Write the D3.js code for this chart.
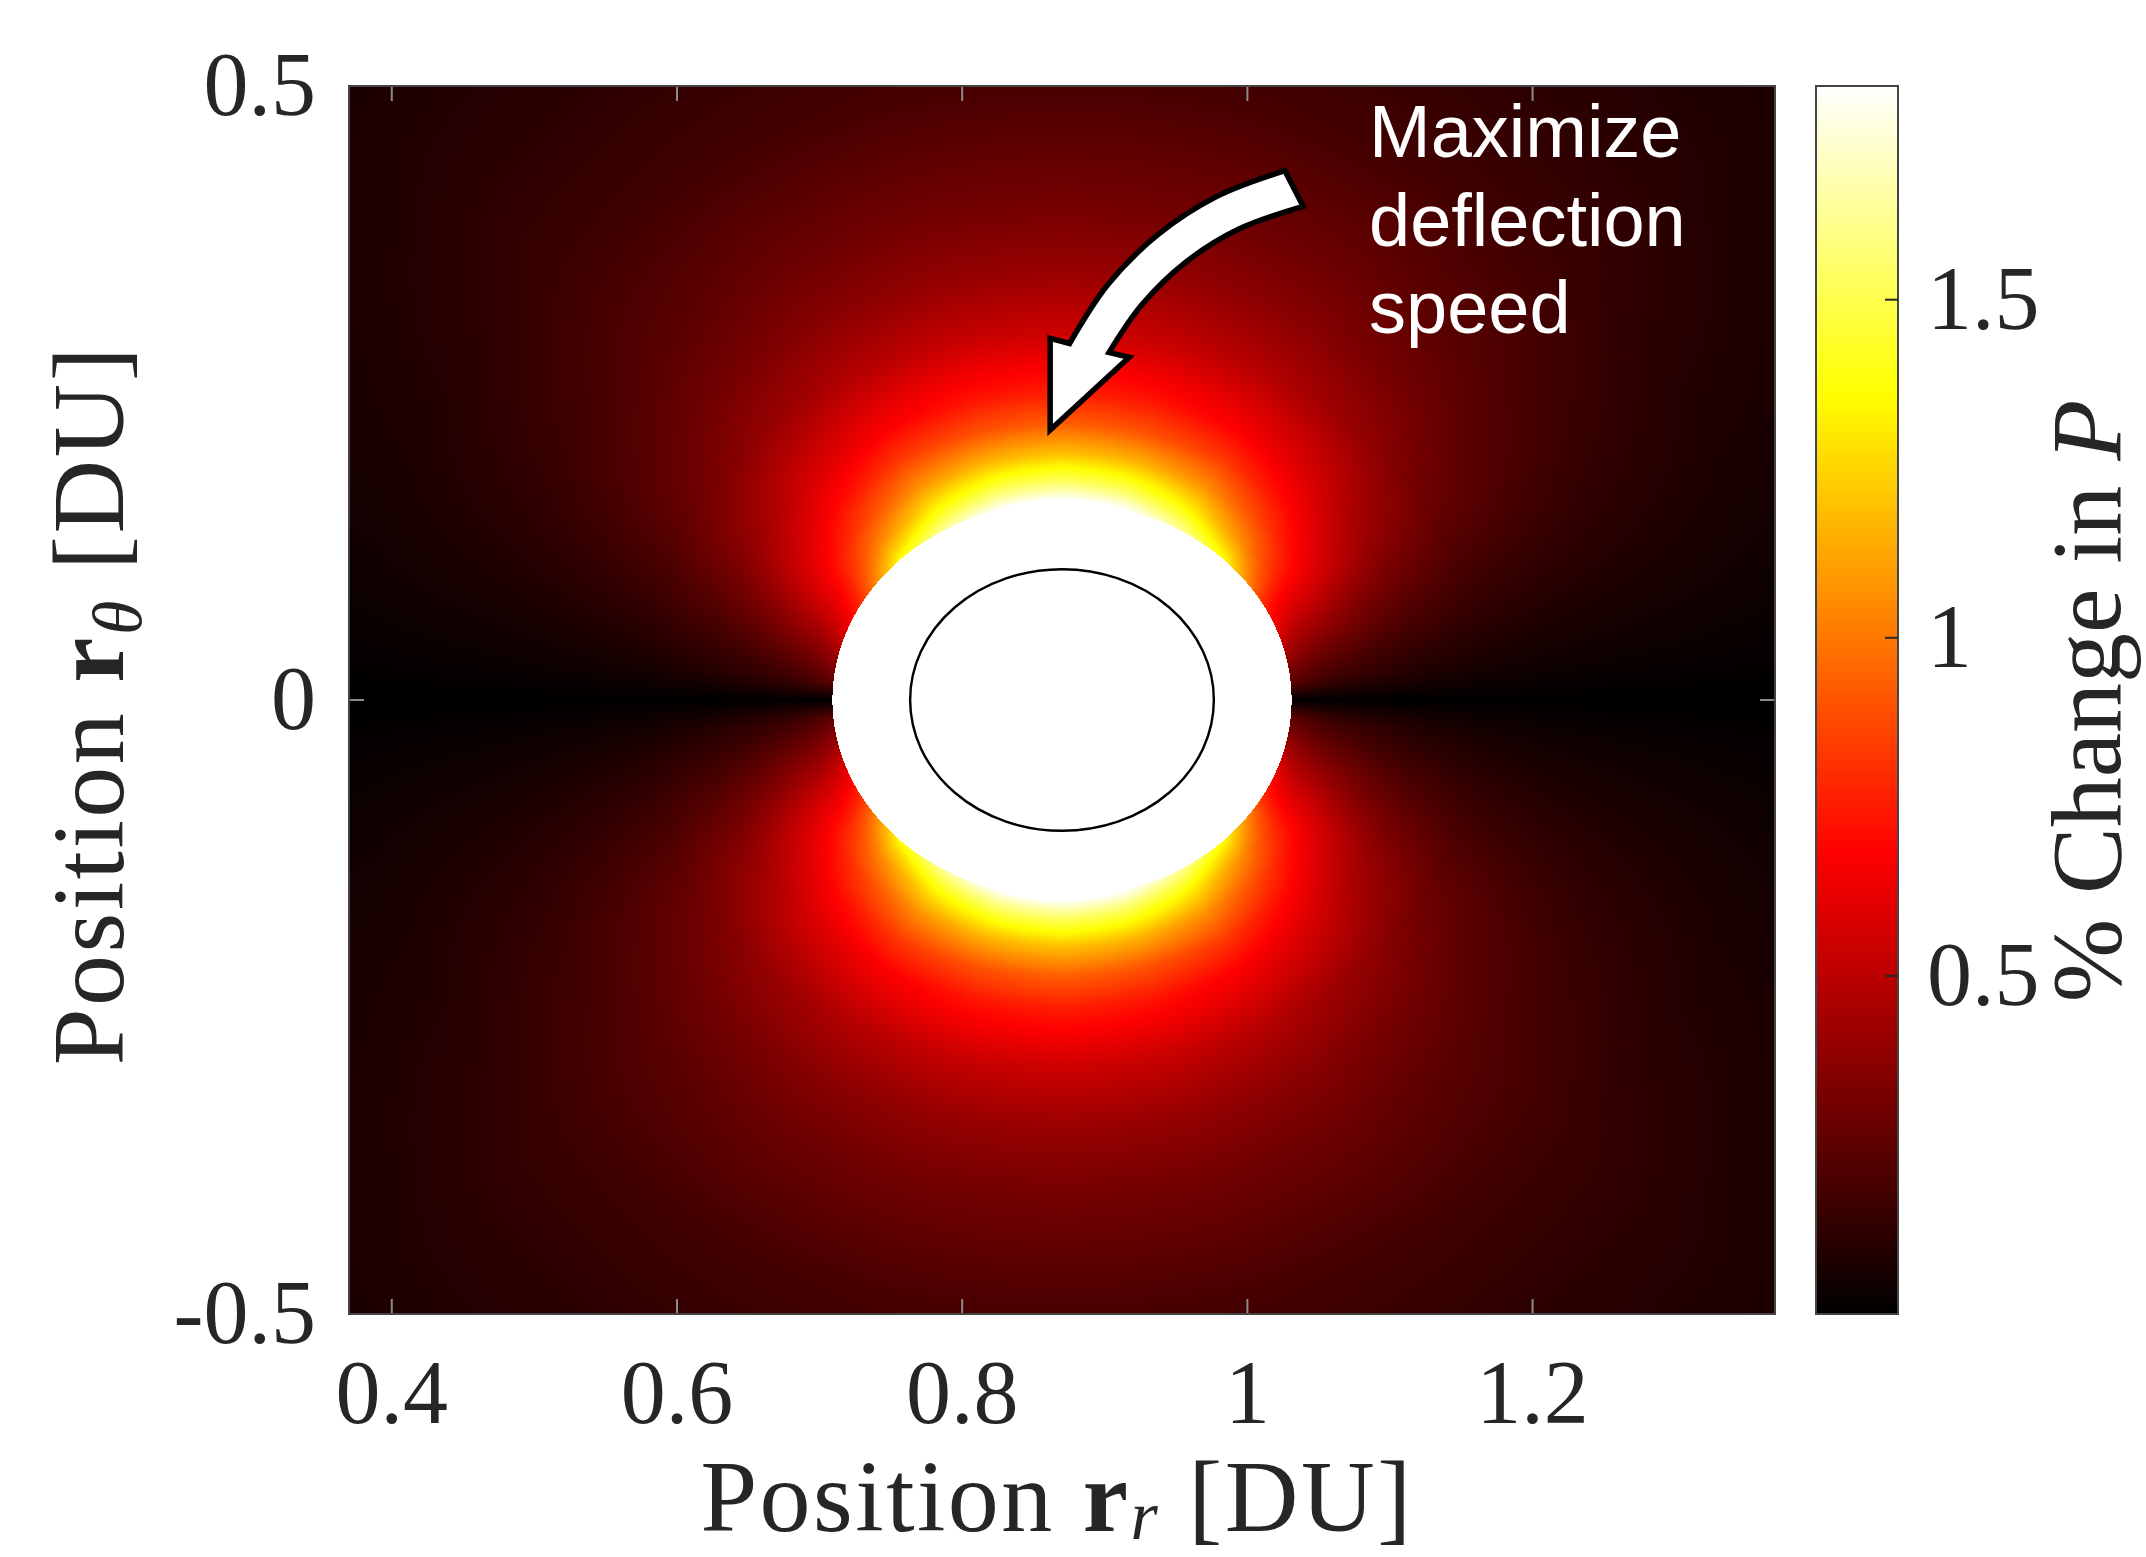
<!DOCTYPE html>
<html><head><meta charset="utf-8">
<script src="https://cdn.jsdelivr.net/npm/d3@7"></script>
<style>html,body{margin:0;padding:0;background:#fff;}svg{display:block;}</style>
</head><body>
<script>
// ---------- data ----------
const xTicks = [0.4, 0.6, 0.8, 1, 1.2];
const yTicks = [-0.5, 0, 0.5];
const cTicks = [0.5, 1, 1.5];
const xDomain = [0.37, 1.37];
const yDomain = [-0.5, 0.5];
const cDomain = [0, 1.816];
const bodyCenter = [0.87, 0];
const bodyRadius = 0.1065;
const maskRadius = 0.161;

// field sampled (read off the picture) on a polar grid around bodyCenter,
// radius in DU, angle from the r_r axis in degrees (symmetric about both axes)
const fieldRadii = [0.161, 0.17, 0.18, 0.2, 0.225, 0.25, 0.3, 0.35, 0.4, 0.5, 0.6, 0.72];
const fieldAngles = [0, 5, 10, 20, 30, 45, 60, 75, 90];
const fieldAt0  = [0, 0, 0, 0, 0, 0, 0, 0, 0, 0, 0, 0];
const fieldAt5  = [0.24, 0.21, 0.18, 0.14, 0.11, 0.085, 0.055, 0.04, 0.03, 0.018, 0.012, 0.008];
const fieldAt10 = [0.36, 0.31, 0.27, 0.22, 0.175, 0.14, 0.095, 0.072, 0.056, 0.035, 0.024, 0.016];
const fieldAt20 = [0.60, 0.52, 0.47, 0.40, 0.32, 0.26, 0.18, 0.14, 0.11, 0.065, 0.045, 0.03];
const fieldAt30 = [0.82, 0.74, 0.68, 0.60, 0.49, 0.39, 0.275, 0.21, 0.16, 0.095, 0.065, 0.04];
const fieldAt45 = [1.36, 1.19, 1.04, 0.84, 0.68, 0.57, 0.39, 0.295, 0.23, 0.155, 0.105, 0.065];
const fieldAt60 = [1.66, 1.48, 1.32, 1.07, 0.84, 0.68, 0.48, 0.36, 0.285, 0.175, 0.12, 0.08];
const fieldAt75 = [1.82, 1.64, 1.46, 1.17, 0.90, 0.74, 0.53, 0.395, 0.31, 0.19, 0.13, 0.088];
const fieldAt90 = [1.86, 1.68, 1.50, 1.20, 0.93, 0.76, 0.545, 0.405, 0.315, 0.195, 0.135, 0.09];
const fieldTable = [fieldAt0, fieldAt5, fieldAt10, fieldAt20, fieldAt30, fieldAt45, fieldAt60, fieldAt75, fieldAt90];

// annotation arrow outline (DU)
const arrowOuter = [[1.0263,0.4310],[0.9783,0.4099],[0.9370,0.3787],[0.9022,0.3383],[0.8753,0.2903]];
const arrowHead  = [[0.8617,0.2945],[0.8617,0.2199],[0.9171,0.2791],[0.9030,0.2830]];
const arrowInner = [[0.9030,0.2830],[0.9258,0.3216],[0.9570,0.3567],[0.9940,0.3835],[1.0391,0.4020]];
const noteLines = ["Maximize", "deflection", "speed"];

// ---------- layout ----------
const W = 2146, H = 1557;
const plot = {left: 349, right: 1775, top: 86, bottom: 1314};
const cbar = {left: 1816, right: 1898};
const ink = "#262626";
const serif = "'Liberation Serif', 'Times New Roman', serif";

const x = d3.scaleLinear().domain(xDomain).range([plot.left, plot.right]);
const y = d3.scaleLinear().domain(yDomain).range([plot.bottom, plot.top]);
const cy = d3.scaleLinear().domain(cDomain).range([plot.bottom, plot.top]);
const hotStops = [0, 0.375, 0.75, 1].map(t => cDomain[0] + t * (cDomain[1] - cDomain[0]));
const hot = d3.scaleLinear().domain(hotStops)
  .range(["#000000", "#ff0000", "#ffff00", "#ffffff"])
  .interpolate(d3.interpolateRgb).clamp(true);

const svg = d3.select("body").append("svg").attr("width", W).attr("height", H);
svg.append("rect").attr("width", W).attr("height", H).attr("fill", "#fff");

// ---------- heatmap ----------
function locate(arr, v) {
  if (v <= arr[0]) return [0, 0];
  if (v >= arr[arr.length - 1]) return [arr.length - 2, 1];
  const i = d3.bisectRight(arr, v) - 1;
  return [i, (v - arr[i]) / (arr[i + 1] - arr[i])];
}
function fieldValue(r, a) {
  const [ir, tr] = locate(fieldRadii, r);
  const [ia, ta] = locate(fieldAngles, a);
  const r0 = fieldTable[ia], r1 = fieldTable[ia + 1];
  const v0 = r0[ir] * (1 - tr) + r0[ir + 1] * tr;
  const v1 = r1[ir] * (1 - tr) + r1[ir + 1] * tr;
  return v0 * (1 - ta) + v1 * ta;
}
const pw = Math.round(plot.right - plot.left), ph = Math.round(plot.bottom - plot.top);
const canvas = document.createElement("canvas");
canvas.width = pw; canvas.height = ph;
const ctx = canvas.getContext("2d");
const img = ctx.createImageData(pw, ph);
const N = 2048, lut = new Uint8Array(N * 3);
for (let k = 0; k < N; k++) {
  const c = d3.rgb(hot(cDomain[0] + (cDomain[1] - cDomain[0]) * k / (N - 1)));
  lut[3*k] = c.r; lut[3*k+1] = c.g; lut[3*k+2] = c.b;
}
const xs = new Float64Array(pw), ys = new Float64Array(ph);
for (let i = 0; i < pw; i++) xs[i] = x.invert(plot.left + i + 0.5);
for (let j = 0; j < ph; j++) ys[j] = y.invert(plot.top + j + 0.5);
for (let j = 0; j < ph; j++) {
  const dy = Math.abs(ys[j] - bodyCenter[1]);
  for (let i = 0; i < pw; i++) {
    const dx = Math.abs(xs[i] - bodyCenter[0]);
    const r = Math.hypot(dx, dy);
    const p = 4 * (j * pw + i);
    if (r < maskRadius) {
      img.data[p] = img.data[p+1] = img.data[p+2] = 255;
    } else {
      const a = Math.atan2(dy, dx) * 180 / Math.PI;
      const v = fieldValue(r, a);
      let k = Math.round((v - cDomain[0]) / (cDomain[1] - cDomain[0]) * (N - 1));
      k = Math.max(0, Math.min(N - 1, k));
      img.data[p] = lut[3*k]; img.data[p+1] = lut[3*k+1]; img.data[p+2] = lut[3*k+2];
    }
    img.data[p+3] = 255;
  }
}
ctx.putImageData(img, 0, 0);
svg.append("image").attr("x", plot.left).attr("y", plot.top)
  .attr("width", pw).attr("height", ph)
  .attr("preserveAspectRatio", "none")
  .attr("href", canvas.toDataURL());

// body outline
svg.append("ellipse")
  .attr("cx", x(bodyCenter[0])).attr("cy", y(bodyCenter[1]))
  .attr("rx", x(bodyCenter[0] + bodyRadius) - x(bodyCenter[0]))
  .attr("ry", y(bodyCenter[1]) - y(bodyCenter[1] + bodyRadius))
  .attr("fill", "none").attr("stroke", "#000").attr("stroke-width", 2.4);

// ---------- annotation arrow ----------
const curve = d3.line().x(d => x(d[0])).y(d => y(d[1])).curve(d3.curveCatmullRom);
const outerD = curve(arrowOuter);
const headD = arrowHead.map(d => `L${x(d[0])},${y(d[1])}`).join("");
const innerD = curve(arrowInner).replace(/^M/, "L");
svg.append("path").attr("d", outerD + headD + innerD + "Z")
  .attr("fill", "#fff").attr("stroke", "#000").attr("stroke-width", 5.5)
  .attr("stroke-linejoin", "miter");

const note = svg.append("text").attr("fill", "#fff")
  .style("font-family", "'Liberation Sans', Arial, sans-serif").style("font-size", "74px");
const noteBaselines = [157, 246, 333];
noteLines.forEach((t, i) => note.append("tspan").attr("x", 1369).attr("y", noteBaselines[i]).text(t));

// ---------- axes ----------
const tickG = svg.append("g").attr("stroke", "#8a8a8a").attr("stroke-width", 2);
xTicks.forEach(t => {
  tickG.append("line").attr("x1", x(t)).attr("x2", x(t)).attr("y1", plot.bottom).attr("y2", plot.bottom - 15);
  tickG.append("line").attr("x1", x(t)).attr("x2", x(t)).attr("y1", plot.top).attr("y2", plot.top + 15);
});
yTicks.forEach(t => {
  tickG.append("line").attr("x1", plot.left).attr("x2", plot.left + 15).attr("y1", y(t)).attr("y2", y(t));
  tickG.append("line").attr("x1", plot.right).attr("x2", plot.right - 15).attr("y1", y(t)).attr("y2", y(t));
});
svg.append("rect").attr("x", plot.left).attr("y", plot.top)
  .attr("width", plot.right - plot.left).attr("height", plot.bottom - plot.top)
  .attr("fill", "none").attr("stroke", "#444").attr("stroke-width", 2);

const tickFont = 90;
svg.append("g").selectAll("text").data(xTicks).join("text")
  .attr("x", d => x(d)).attr("y", plot.bottom + 109).attr("text-anchor", "middle")
  .attr("fill", ink).style("font-family", serif).style("font-size", tickFont + "px")
  .text(d => String(d));
svg.append("g").selectAll("text").data(yTicks).join("text")
  .attr("x", plot.left - 33).attr("y", d => y(d) + 29).attr("text-anchor", "end")
  .attr("fill", ink).style("font-family", serif).style("font-size", tickFont + "px")
  .text(d => String(d));

// axis labels
const labFont = 102;
const xl = svg.append("text").attr("x", 1057).attr("y", 1531).attr("text-anchor", "middle")
  .attr("fill", ink).style("font-family", serif).style("font-size", labFont + "px")
  .style("letter-spacing", "2.5px");
xl.append("tspan").text("Position ");
xl.append("tspan").style("font-weight", "bold").text("r");
xl.append("tspan").attr("dy", 8).style("font-style", "italic").style("font-size", "70px").text("r");
xl.append("tspan").attr("dy", -8).text(" [DU]");

const yl = svg.append("text").attr("transform", "translate(123,705) rotate(-90)").attr("text-anchor", "middle")
  .attr("fill", ink).style("font-family", serif).style("font-size", labFont + "px")
  .style("letter-spacing", "2.5px");
yl.append("tspan").text("Position ");
yl.append("tspan").style("font-weight", "bold").text("r");
yl.append("tspan").attr("dy", 18).style("font-style", "italic").style("font-size", "70px").text("θ");
yl.append("tspan").attr("dy", -18).text(" [DU]");

// ---------- colorbar ----------
const grad = svg.append("defs").append("linearGradient").attr("id", "hotgrad")
  .attr("x1", 0).attr("y1", 1).attr("x2", 0).attr("y2", 0);
hotStops.forEach(v => grad.append("stop")
  .attr("offset", (v - cDomain[0]) / (cDomain[1] - cDomain[0]))
  .attr("stop-color", hot(v)));
svg.append("rect").attr("x", cbar.left).attr("y", cy(cDomain[1]))
  .attr("width", cbar.right - cbar.left).attr("height", cy(cDomain[0]) - cy(cDomain[1]))
  .attr("fill", "url(#hotgrad)").attr("stroke", "#444").attr("stroke-width", 2);
svg.append("g").selectAll("line").data(cTicks).join("line")
  .attr("x1", cbar.right).attr("x2", cbar.right - 13).attr("y1", d => cy(d)).attr("y2", d => cy(d))
  .attr("stroke", ink).attr("stroke-width", 2);
svg.append("g").selectAll("text").data(cTicks).join("text")
  .attr("x", 1927).attr("y", d => cy(d) + 29)
  .attr("fill", ink).style("font-family", serif).style("font-size", tickFont + "px")
  .text(d => String(d));
const cl = svg.append("text").attr("transform", "translate(2120,701) rotate(-90)").attr("text-anchor", "middle")
  .attr("fill", ink).style("font-family", serif).style("font-size", "100px");
cl.append("tspan").text("% Change in ");
cl.append("tspan").style("font-style", "italic").text("P");
</script>
</body></html>
